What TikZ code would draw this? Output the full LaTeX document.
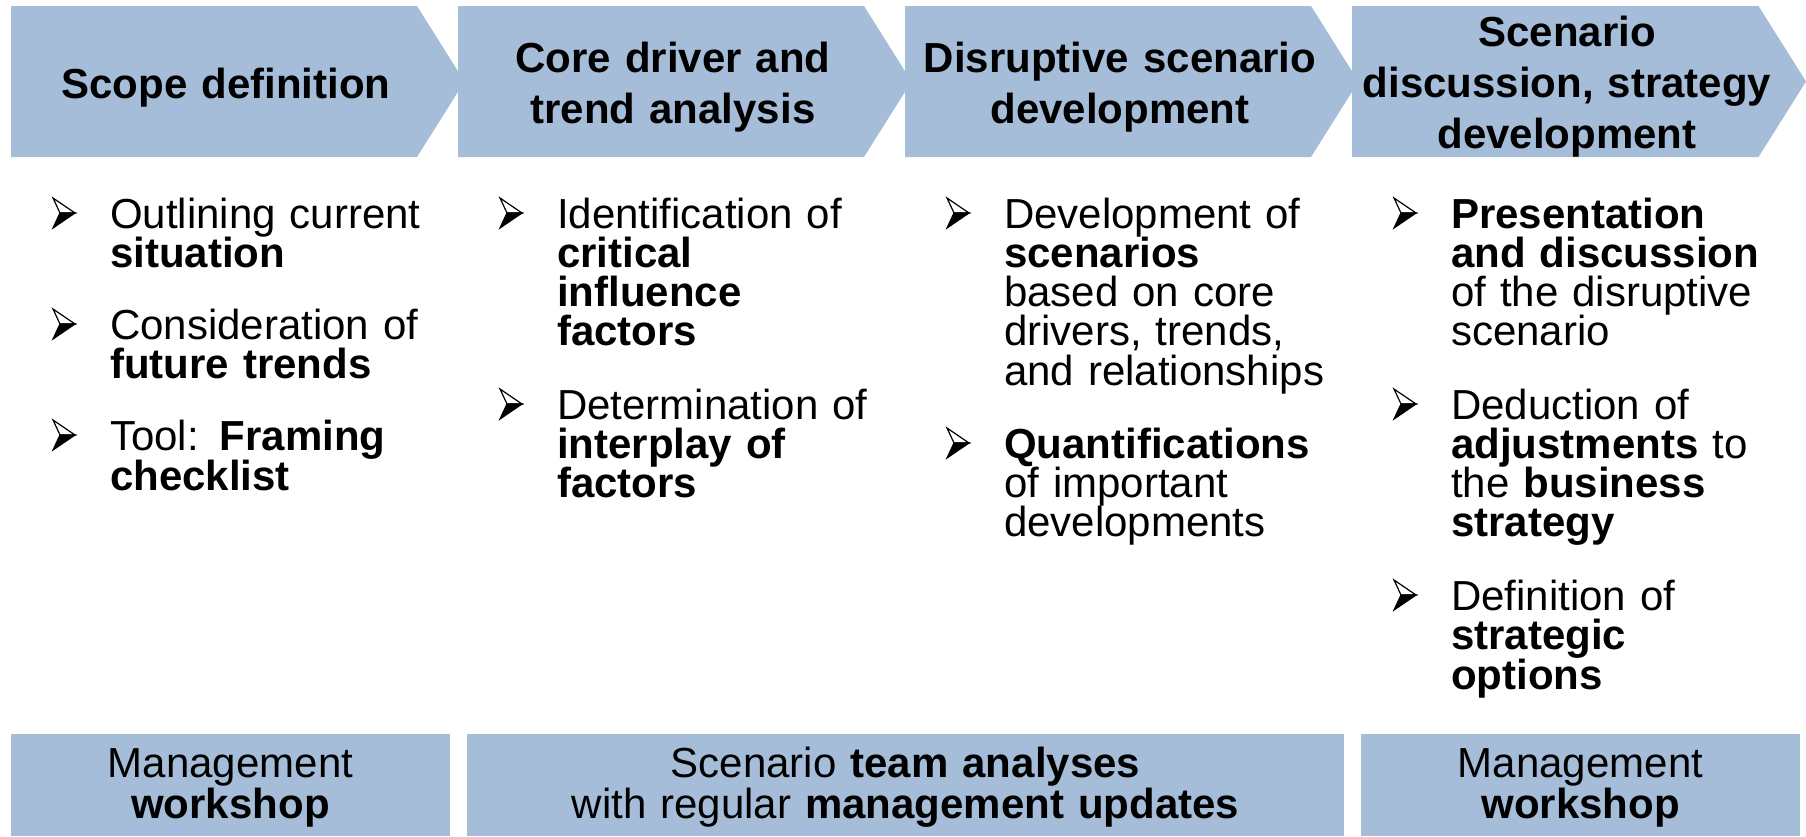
\documentclass[tikz,border=0pt]{standalone}
\usepackage{fontspec}
\setmainfont{Liberation Sans}
\definecolor{chevblue}{RGB}{165,189,216}
\begin{document}
\begin{tikzpicture}[x=1pt,y=-1pt,
  chev/.style={fill=chevblue},
  boxstyle/.style={fill=chevblue, inner sep=0pt, minimum height=102pt},
  headtext/.style={font=\fontsize{42}{51}\selectfont\bfseries, align=center, text width=450pt, inner sep=0pt, anchor=base},
  itemtext/.style={font=\fontsize{42}{39.3}\selectfont, align=left, text width=360pt, inner sep=0pt, anchor=base west},
  boxtext/.style={font=\fontsize{42}{41}\selectfont, align=center, text width=880pt, inner sep=0pt, anchor=base},
  arrowbullet/.pic={
    \filldraw[line width=1.2pt, fill=white, line join=miter] (0,-30) -- (22,-15) -- (7,-15) -- cycle;
    \filldraw[line width=1.2pt, line join=miter] (7,-15) -- (22,-15) -- (0,0) -- cycle;
  }]
\useasboundingbox (0,0) rectangle (1806,836);

% chevrons
\fill[chev] (11,6) -- (417,6) -- (464.5,81.5) -- (417,157) -- (11,157) -- cycle;
\fill[chev] (458,6) -- (864,6) -- (911.5,81.5) -- (864,157) -- (458,157) -- cycle;
\fill[chev] (905,6) -- (1311,6) -- (1358.5,81.5) -- (1311,157) -- (905,157) -- cycle;
\fill[chev] (1352,6) -- (1758.5,6) -- (1806,81.5) -- (1758.5,157) -- (1352,157) -- cycle;

% headings
\node[headtext] (h1) at (226,98) {Scope definition};
\node[headtext] (h2) at (673,72) {Core driver and\\trend analysis};
\node[headtext] (h3) at (1120,72) {Disruptive scenario\\development};
\node[headtext] (h4) at (1567,46) {Scenario\\discussion, strategy\\development};

% column 1
\pic at (53,228) {arrowbullet};
\node[itemtext] (c1a) at (110,228) {Outlining current\\\textbf{situation}};
\pic at (53,339) {arrowbullet};
\node[itemtext] (c1b) at (110,339) {Consideration of\\\textbf{future trends}};
\pic at (53,450) {arrowbullet};
\node[itemtext] (c1c) at (110,450) {Tool: \textbf{Framing}\\\textbf{checklist}};

% column 2
\pic at (500,228) {arrowbullet};
\node[itemtext] (c2a) at (557,228) {Identification of\\\textbf{critical}\\\textbf{influence}\\\textbf{factors}};
\pic at (500,419) {arrowbullet};
\node[itemtext] (c2b) at (557,419) {Determination of\\\textbf{interplay of}\\\textbf{factors}};

% column 3
\pic at (947,228) {arrowbullet};
\node[itemtext] (c3a) at (1004,228) {Development of\\\textbf{scenarios}\\based on core\\drivers, trends,\\and relationships};
\pic at (947,458) {arrowbullet};
\node[itemtext] (c3b) at (1004,458) {\textbf{Quantifications}\\of important\\developments};

% column 4
\pic at (1394,228) {arrowbullet};
\node[itemtext] (c4a) at (1451,228) {\textbf{Presentation}\\\textbf{and discussion}\\of the disruptive\\scenario};
\pic at (1394,419) {arrowbullet};
\node[itemtext] (c4b) at (1451,419) {Deduction of\\\textbf{adjustments} to\\the \textbf{business}\\\textbf{strategy}};
\pic at (1394,610) {arrowbullet};
\node[itemtext] (c4c) at (1451,610) {Definition of\\\textbf{strategic}\\\textbf{options}};

% bottom boxes
\node[boxstyle, minimum width=439pt] (b1) at (230.5,785) {};
\node[boxstyle, minimum width=877pt] (b2) at (905.5,785) {};
\node[boxstyle, minimum width=439pt] (b3) at (1580.5,785) {};
\node[boxtext] (t1) at (b1.center |- 0,777) {Management\\\textbf{workshop}};
\node[boxtext] (t2) at (b2.center |- 0,777) {Scenario \textbf{team analyses}\\with regular \textbf{management updates}};
\node[boxtext] (t3) at (b3.center |- 0,777) {Management\\\textbf{workshop}};
\end{tikzpicture}
\end{document}
